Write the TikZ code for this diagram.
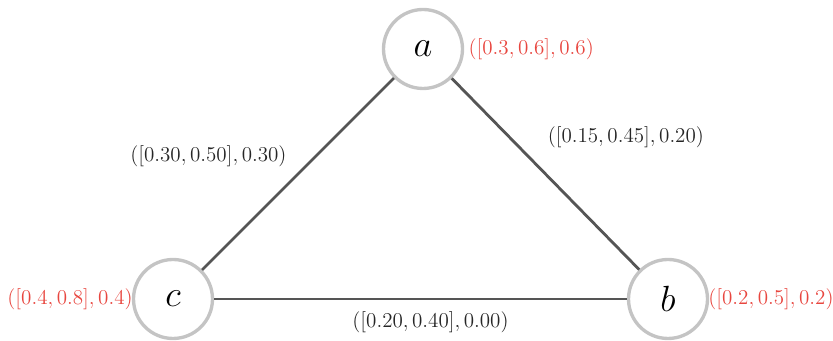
\documentclass[tikz,border=0pt]{standalone}
\usepackage{amsmath,amssymb}
\usepackage{tikz}
\usetikzlibrary{positioning}
\definecolor{cgray}{HTML}{c4c4c4}
\definecolor{cedge}{HTML}{555555}
\definecolor{cred}{HTML}{e8463f}

\begin{document}
\begin{tikzpicture}[
  vtx/.style={circle,draw=cgray,line width=1.9pt,fill=white,minimum size=1.58cm,
    inner sep=0pt,font=\huge},
  edge/.style={draw=cedge,line width=1.6pt},
  elbl/.style={font=\fontsize{11.8}{14}\selectfont,text=black!85},
  vlbl/.style={font=\fontsize{11.8}{14}\selectfont,text=cred}]
  \useasboundingbox (0,0) rectangle (16.66,6.82);
  \node[vtx] (a) at (8.46,5.84) {$a$};
  \node[vtx] (c) at (3.46,0.84) {$c$};
  \node[vtx] (b) at (13.36,0.84) {$b$};
  \node[vlbl,right=-1pt of a] (la) {$([0.3,0.6],0.6)$};
  \node[vlbl,left=-4pt of c] (lc) {$([0.4,0.8],0.4)$};
  \node[vlbl,right=-4pt of b] (lb) {$([0.2,0.5],0.2)$};
  \draw[edge] (c) -- (a) node[elbl,midway,above left=0.12cm,yshift=-0.08cm] {$([0.30,0.50],0.30)$};
  \draw[edge] (a) -- (b) node[elbl,midway,anchor=south west,xshift=-0.1cm,yshift=0.38cm] {$([0.15,0.45],0.20)$};
  \draw[edge] (c) -- (b) node[elbl,midway,below=3pt,xshift=0.2cm] {$([0.20,0.40],0.00)$};
\end{tikzpicture}
\end{document}
